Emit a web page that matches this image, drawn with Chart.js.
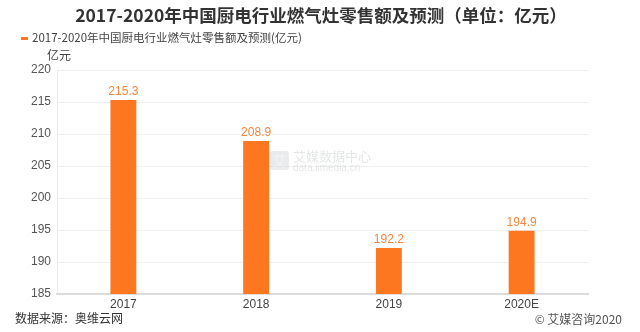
<!DOCTYPE html>
<html>
<head>
<meta charset="utf-8">
<script src="https://cdn.jsdelivr.net/npm/chart.js@4/dist/chart.umd.min.js"></script>
<style>
  html, body { margin: 0; padding: 0; background: #fff; }
  #wrap { position: relative; width: 640px; height: 332px; }
</style>
</head>
<body>
<div id="wrap"><canvas id="c" width="640" height="332"></canvas></div>
<script>
// Retail sales of gas stoves in China's kitchen-appliance industry (100M CNY)
const categories = ['2017', '2018', '2019', '2020E'];
const salesValues = [215.3, 208.9, 192.2, 194.9];
const yTicks = [185, 190, 195, 200, 205, 210, 215, 220];

const seriesName = '2017-2020年中国厨电行业燃气灶零售额及预测(亿元)';
const titleText = '2017-2020年中国厨电行业燃气灶零售额及预测（单位：亿元）';
const unitText = '亿元';
const sourceText = '数据来源：奥维云网';
const copyrightText = '© 艾媒咨询2020';

const FONT = '"Liberation Sans", "Noto Sans CJK SC", sans-serif';
const CJK = '"Noto Sans CJK SC", "Liberation Sans", sans-serif';
const BAR = '#fd7620';

// Static texts around the plot: title, legend, unit, source, watermark
const decor = {
  id: 'decor',
  beforeDatasetsDraw(chart) {
    const ctx = chart.ctx;
    ctx.save();
    // watermark
    ctx.globalAlpha = 0.3;
    ctx.fillStyle = '#b9bcc0';
    const wx = 270, wy = 151;
    ctx.beginPath();
    ctx.roundRect(wx, wy, 19, 19, 3);
    ctx.fill();
    ctx.fillStyle = '#fff';
    ctx.font = 'bold 14px ' + CJK;
    ctx.textAlign = 'center';
    ctx.textBaseline = 'middle';
    ctx.fillText('艾', wx + 9.5, wy + 9.5);
    ctx.fillStyle = '#a9acb0';
    ctx.textAlign = 'left';
    ctx.font = '13px ' + CJK;
    ctx.fillText('艾媒数据中心', wx + 23, wy + 5);
    ctx.font = '10px ' + FONT;
    ctx.fillText('data.iimedia.cn', wx + 23, wy + 17);
    ctx.restore();
  },
  afterDraw(chart) {
    const ctx = chart.ctx;
    ctx.save();
    ctx.textBaseline = 'middle';
    // title
    ctx.fillStyle = '#333';
    ctx.font = 'bold 17.5px ' + CJK;
    ctx.textAlign = 'center';
    ctx.fillText(titleText, 321, 15);
    // legend
    ctx.fillStyle = BAR;
    ctx.fillRect(21, 37, 7, 3);
    ctx.fillStyle = '#444';
    ctx.font = '11.5px ' + CJK;
    ctx.textAlign = 'left';
    ctx.fillText(seriesName, 32, 38);
    // unit
    ctx.font = '12px ' + CJK;
    ctx.fillText(unitText, 47, 55);
    // source
    ctx.fillStyle = '#333';
    ctx.fillText(sourceText, 15, 318);
    // copyright
    ctx.fillStyle = '#555';
    ctx.textAlign = 'right';
    ctx.fillText(copyrightText, 622, 319);
    ctx.restore();
  }
};

// Value labels above each bar
const valueLabels = {
  id: 'valueLabels',
  afterDatasetsDraw(chart) {
    const ctx = chart.ctx;
    const meta = chart.getDatasetMeta(0);
    ctx.save();
    ctx.fillStyle = '#f0873f';
    ctx.font = '12px ' + FONT;
    ctx.textAlign = 'center';
    ctx.textBaseline = 'bottom';
    meta.data.forEach((bar, i) => {
      ctx.fillText(salesValues[i].toFixed(1), bar.x, bar.y - 2);
    });
    ctx.restore();
  }
};

new Chart(document.getElementById('c'), {
  type: 'bar',
  data: {
    labels: categories,
    datasets: [{
      label: seriesName,
      data: salesValues,
      backgroundColor: BAR,
      borderWidth: 0,
      barPercentage: 0.5,
      categoryPercentage: 0.39
    }]
  },
  options: {
    responsive: false,
    animation: false,
    layout: { padding: { left: 0, top: 70, right: 52, bottom: 0 } },
    plugins: {
      legend: { display: false },
      title: { display: false },
      tooltip: { enabled: false }
    },
    scales: {
      y: {
        min: 185,
        max: 220,
        afterBuildTicks(scale) { scale.ticks = yTicks.map(v => ({ value: v })); },
        afterFit(scale) { scale.width = 57; },
        ticks: {
          color: '#555',
          font: { size: 12, family: FONT },
          padding: 6
        },
        grid: { color: '#f0f0f0', drawTicks: false, lineWidth: 1 },
        border: { display: true, color: '#ececec' }
      },
      x: {
        afterFit(scale) { scale.height = 38; },
        ticks: {
          color: '#444',
          font: { size: 12, family: FONT },
          padding: 3
        },
        grid: { display: false, drawTicks: false },
        border: { display: true, color: '#dcdcdc', width: 2 }
      }
    }
  },
  plugins: [decor, valueLabels]
});
</script>
</body>
</html>
